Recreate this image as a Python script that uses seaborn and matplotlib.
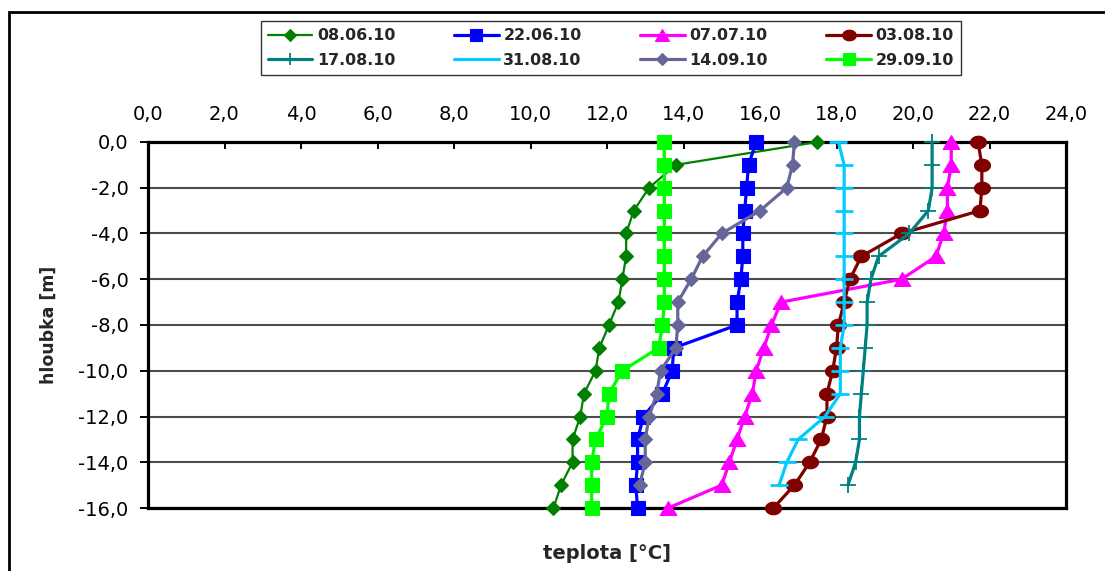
import numpy as np
import pandas as pd
import matplotlib
matplotlib.use("Agg")
import matplotlib.pyplot as plt
from matplotlib.path import Path
from matplotlib.patches import Rectangle
from matplotlib.ticker import FuncFormatter
import seaborn as sns

# ---------------- data ----------------
depth = [0, -1, -2, -3, -4, -5, -6, -7, -8, -9, -10, -11, -12, -13, -14, -15, -16]

t_080610 = [17.5, 13.8, 13.1, 12.7, 12.5, 12.5, 12.4, 12.3, 12.05, 11.8, 11.7, 11.4, 11.3, 11.1, 11.1, 10.8, 10.6]
t_220610 = [15.9, 15.7, 15.65, 15.6, 15.55, 15.55, 15.5, 15.4, 15.4, 13.75, 13.7, 13.45, 12.95, 12.8, 12.8, 12.75, 12.8]
t_070710 = [21.0, 21.0, 20.9, 20.9, 20.8, 20.6, 19.7, 16.55, 16.3, 16.1, 15.9, 15.8, 15.6, 15.4, 15.2, 15.0, 13.6]
t_030810 = [21.7, 21.8, 21.8, 21.75, 19.7, 18.65, 18.35, 18.2, 18.05, 18.0, 17.9, 17.75, 17.75, 17.6, 17.3, 16.9, 16.35]
t_170810 = [20.5, 20.5, 20.5, 20.4, 19.9, 19.1, 18.9, 18.8, 18.8, 18.75, 18.7, 18.65, 18.6, 18.6, 18.5, 18.3]
t_310810 = [18.05, 18.2, 18.2, 18.2, 18.2, 18.2, 18.2, 18.2, 18.2, 18.1, 18.1, 18.1, 17.7, 17.0, 16.7, 16.5]
t_140910 = [16.9, 16.85, 16.7, 16.0, 15.0, 14.5, 14.2, 13.85, 13.85, 13.8, 13.4, 13.3, 13.1, 13.0, 13.0, 12.85]
t_290910 = [13.5, 13.5, 13.5, 13.5, 13.5, 13.5, 13.5, 13.5, 13.45, 13.35, 12.4, 12.05, 12.0, 11.7, 11.6, 11.6, 11.6]

labels = ["08.06.10", "22.06.10", "07.07.10", "03.08.10",
          "17.08.10", "31.08.10", "14.09.10", "29.09.10"]
series = [t_080610, t_220610, t_070710, t_030810, t_170810, t_310810, t_140910, t_290910]

x_ticks = [0, 2, 4, 6, 8, 10, 12, 14, 16, 18, 20, 22, 24]
y_ticks = [0, -2, -4, -6, -8, -10, -12, -14, -16]

# ---------------- styles ----------------
theta = np.linspace(0, 2 * np.pi, 40)
ellipse = Path(np.column_stack([1.27 * np.cos(theta), np.sin(theta)]), closed=True)
triangle = Path([(0, 1), (-1.2, -1), (1.2, -1), (0, 1)], closed=True)

styles = {
    "08.06.10": dict(color="#008000", marker="D", ms=7.2, lw=1.6, mew=0.8),
    "22.06.10": dict(color="#0000FF", marker="s", ms=9.6, lw=2.3, mew=0.8),
    "07.07.10": dict(color="#FF00FF", marker=triangle, ms=12.0, lw=2.3, mew=0.8),
    "03.08.10": dict(color="#800000", marker=ellipse, ms=11.5, lw=2.3, mew=0.8),
    "17.08.10": dict(color="#008080", marker="+", ms=11.0, lw=2.3, mew=1.3),
    "31.08.10": dict(color="#00CCFF", marker="_", ms=12.5, lw=2.3, mew=2.0),
    "14.09.10": dict(color="#666699", marker="D", ms=7.0, lw=2.3, mew=0.8),
    "29.09.10": dict(color="#00FF00", marker="s", ms=10.0, lw=2.3, mew=0.8),
}

sns.set_theme(style="white")
plt.rcParams["font.family"] = ["DejaVu Sans"]

fig = plt.figure(figsize=(11.05, 5.71), dpi=100)
ax = fig.add_axes([148 / 1105, 1 - 508 / 571, (1066 - 148) / 1105, 366 / 571])

for lab, temps in zip(labels, series):
    st = styles[lab]
    df = pd.DataFrame({"teplota": temps, "hloubka": depth[:len(temps)]})
    sns.lineplot(data=df, x="teplota", y="hloubka", orient="y", sort=False,
                 estimator=None, ax=ax, color=st["color"], marker=st["marker"],
                 markersize=st["ms"], linewidth=st["lw"],
                 markeredgecolor=st["color"], markerfacecolor=st["color"],
                 markeredgewidth=st["mew"], label=lab, legend=False,
                 clip_on=False, zorder=3)

ax.set_xlim(0, 24)
ax.set_ylim(-16, 0)
ax.set_xticks(x_ticks)
ax.set_yticks(y_ticks)
fmt = FuncFormatter(lambda v, p: f"{v:.1f}".replace(".", ",").replace("-0,0", "0,0"))
ax.xaxis.set_major_formatter(fmt)
ax.yaxis.set_major_formatter(fmt)
ax.xaxis.tick_top()
ax.tick_params(axis="x", direction="in", length=5, width=1.4, color="black",
               labelsize=14, pad=13, top=True, bottom=False, labelcolor="black")
ax.tick_params(axis="y", direction="out", length=6, width=1.4, color="black",
               labelsize=14, pad=8, left=True, labelcolor="black")

ax.grid(axis="y", color="#4d4d4d", linewidth=1.5)
ax.grid(axis="x", visible=False)
ax.set_axisbelow(True)
for side in ["left", "top", "right", "bottom"]:
    ax.spines[side].set_visible(True)
    ax.spines[side].set_color("black")
    ax.spines[side].set_linewidth(2.3)
    ax.spines[side].set_zorder(2.5)

ax.set_xlabel("teplota [°C]", fontsize=14, fontweight="bold", va="center")
ax.xaxis.set_label_position("bottom")
ax.xaxis.set_label_coords(0.5, -0.098)
ax.set_ylabel("hloubka [m]", fontsize=12.5, fontweight="bold", va="center", ha="center")
ax.yaxis.set_label_coords(-0.108, 0.5)

# legend: column-major reorder so rows read as in the reference
handles, labs = ax.get_legend_handles_labels()
order = [0, 4, 1, 5, 2, 6, 3, 7]
leg = fig.legend([handles[i] for i in order], [labs[i] for i in order],
                 loc="center", bbox_to_anchor=(611 / 1105, 1 - 48 / 571),
                 ncol=4, numpoints=1, frameon=True, fancybox=False, shadow=False,
                 prop=dict(size=11.4, weight="bold"), handlelength=2.8,
                 handletextpad=0.3, columnspacing=3.7, labelspacing=0.6,
                 borderpad=0.45, borderaxespad=0, markerscale=0.85)
leg.get_frame().set_edgecolor("black")
leg.get_frame().set_linewidth(1.0)

# outer chart border (cropped on right and bottom)
fig.add_artist(Rectangle((9 / 1105, -0.2), 1.5, (1 - 12 / 571) + 0.2,
                         transform=fig.transFigure, fill=False,
                         edgecolor="black", linewidth=2.0))

fig.savefig("out.png", dpi=100)
